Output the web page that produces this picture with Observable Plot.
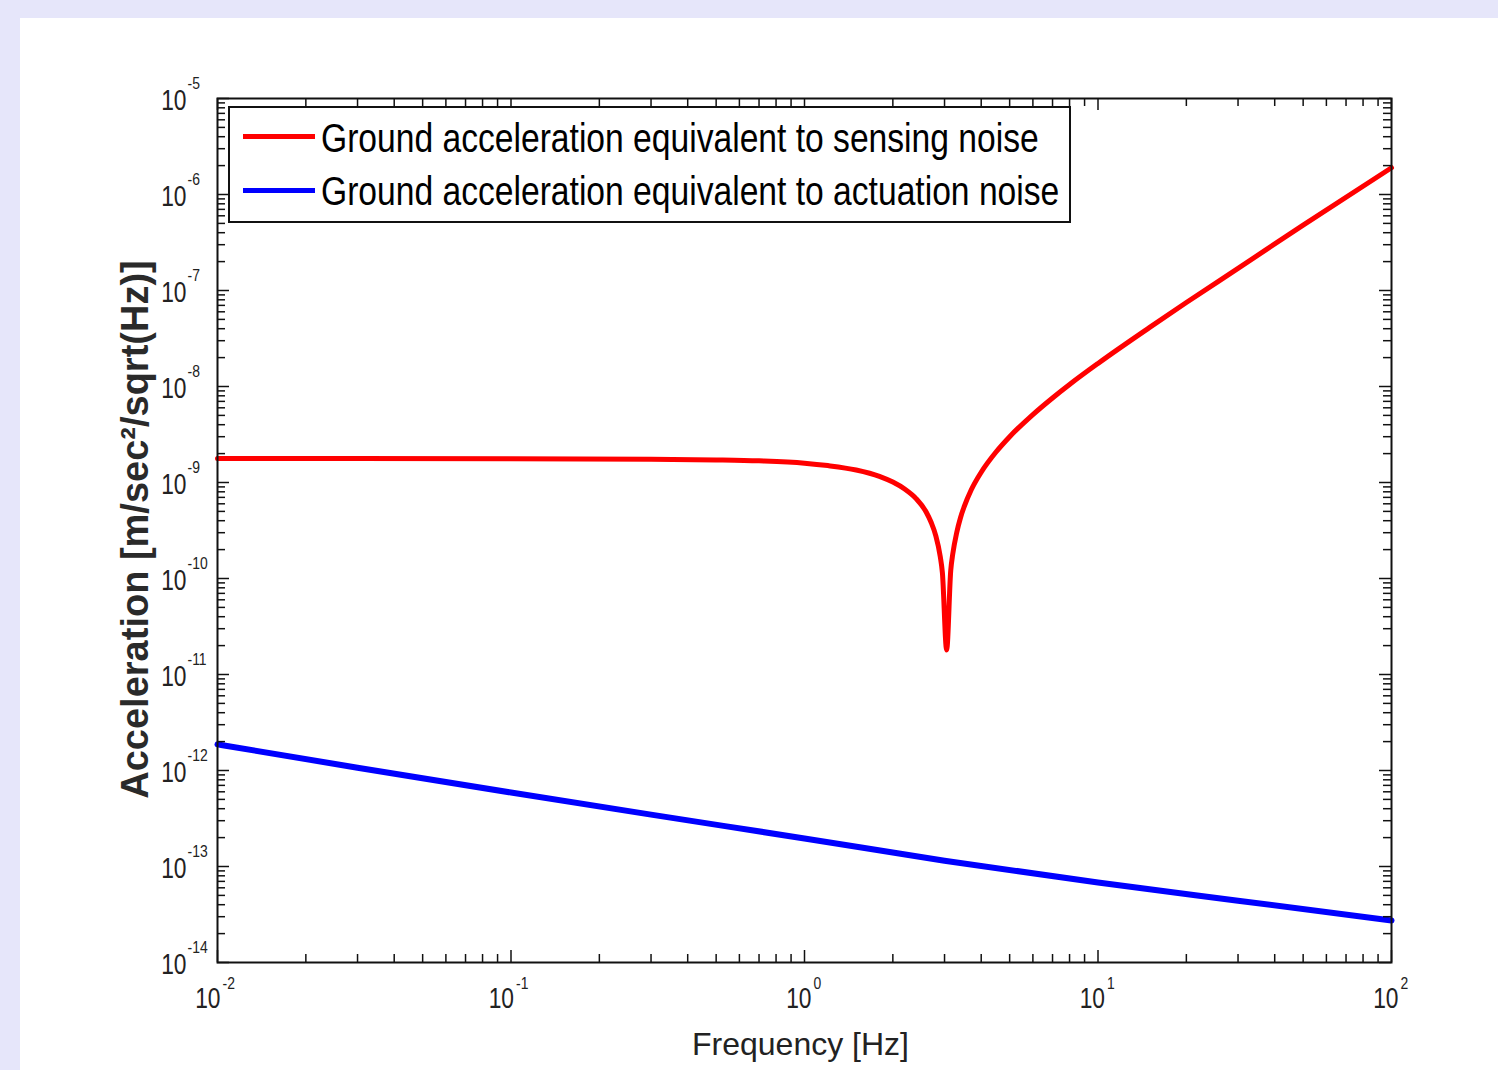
<!DOCTYPE html>
<html>
<head>
<meta charset="utf-8">
<script src="https://cdn.jsdelivr.net/npm/d3@7"></script>
<script src="https://cdn.jsdelivr.net/npm/@observablehq/plot@0.6"></script>
<style>
html, body { margin: 0; padding: 0; background: #e6e6fa; }
body { width: 1498px; height: 1070px; position: relative; overflow: hidden; }
#panel { position: absolute; left: 20px; top: 18px; right: 0; bottom: 0; background: #ffffff; }
#chart { position: absolute; left: 0; top: 0; }
#legend { position: absolute; left: 228px; top: 106px; width: 839px; height: 113px;
  border: 2px solid #111; background: #fff; font-family: "Liberation Sans", Arial, sans-serif;
  font-size: 41px; color: #000; }
.sw { position: absolute; left: 13px; width: 72px; height: 5px; }
.lt { position: absolute; left: 91px; line-height: 41px; white-space: nowrap;
  transform: scaleX(0.82); transform-origin: 0 50%; }
</style>
</head>
<body>
<div id="panel"></div>
<div id="chart"></div>
<div id="legend"></div>
<script>
// ---- data ----
const redFreq  = [0.01, 0.03, 0.1, 0.3, 0.5, 0.7, 1.0, 1.2, 1.5, 1.8, 2.0, 2.2, 2.4, 2.6, 2.7, 2.8, 2.9, 2.95, 3.05, 3.15, 3.2, 3.3, 3.4, 3.5, 3.7, 4.0, 4.5, 5.0, 6.0, 7.0, 8.0, 10, 15, 20, 30, 50, 100];
const redAccel = [1.78e-9, 1.78e-9, 1.77e-9, 1.75e-9, 1.72e-9, 1.68e-9, 1.59e-9, 1.50e-9, 1.35e-9, 1.16e-9, 1.01e-9, 8.5e-10, 6.8e-10, 4.9e-10, 3.85e-10, 2.8e-10, 1.7e-10, 1.15e-10, 1.8e-11, 1.22e-10, 1.8e-10, 3.0e-10, 4.3e-10, 5.6e-10, 8.4e-10, 1.28e-9, 2.09e-9, 3.0e-9, 5.1e-9, 7.6e-9, 1.05e-8, 1.74e-8, 4.13e-8, 7.5e-8, 1.70e-7, 4.8e-7, 1.9e-6];

const blueFreq  = [0.01, 0.03, 0.1, 0.3, 1, 3, 10, 30, 100];
const blueAccel = [1.87e-12, 1.07e-12, 5.9e-13, 3.47e-13, 1.96e-13, 1.15e-13, 6.8e-14, 4.4e-14, 2.74e-14];

const seriesNames = ["Ground acceleration equivalent to sensing noise", "Ground acceleration equivalent to actuation noise"];
const seriesColors = ["#ff0000", "#0000ff"];

const xTickValues = [1e-2, 1e-1, 1e0, 1e1, 1e2];
const xTickExp = ["-2", "-1", "0", "1", "2"];
const yTickValues = [1e-14, 1e-13, 1e-12, 1e-11, 1e-10, 1e-9, 1e-8, 1e-7, 1e-6, 1e-5];
const yTickExp = ["-14", "-13", "-12", "-11", "-10", "-9", "-8", "-7", "-6", "-5"];

const xLabel = "Frequency [Hz]";
const yLabel = "Acceleration [m/sec\u00B2/sqrt(Hz)]";

// ---- build ----
const red = redFreq.map((f, i) => ({f, a: redAccel[i]}));
const blue = blueFreq.map((f, i) => ({f, a: blueAccel[i]}));

const W = 1498, H = 1070;
const mL = 217, mR = W - 1391, mT = 98, mB = H - 962;
const pw = W - mL - mR, ph = H - mT - mB;

const minorOf = (lo, hi) => { const out = []; for (let d = lo; d < hi; d++) for (let k = 2; k <= 9; k++) out.push(k * Math.pow(10, d)); return out; };
const xMinor = minorOf(-2, 2);
const yMinor = minorOf(-14, -5);

const axisColor = "#111";
const sans = "'Liberation Sans', Arial, sans-serif";
const lblColor = "#222";

const xOff10 = xTickExp.map(e => e.startsWith("-") ? 3 : 7);

const chart = Plot.plot({
  width: W, height: H,
  marginLeft: mL, marginRight: mR, marginTop: mT, marginBottom: mB,
  style: {background: "transparent", overflow: "visible"},
  x: {type: "log", domain: [1e-2, 1e2], axis: null},
  y: {type: "log", domain: [1e-14, 1e-5], axis: null},
  marks: [
    Plot.line(blue, {x: "f", y: "a", stroke: seriesColors[1], strokeWidth: 6, curve: "monotone-x"}),
    Plot.line(red, {x: "f", y: "a", stroke: seriesColors[0], strokeWidth: 5, curve: "monotone-x"}),
    // inward ticks (MATLAB style), all four sides
    Plot.ruleX(xMinor, {x: d => d, insetTop: ph - 8, stroke: axisColor, strokeWidth: 1.5}),
    Plot.ruleX(xMinor, {x: d => d, insetBottom: ph - 8, stroke: axisColor, strokeWidth: 1.5}),
    Plot.ruleX(xTickValues, {x: d => d, insetTop: ph - 12, stroke: axisColor, strokeWidth: 1.5}),
    Plot.ruleX(xTickValues, {x: d => d, insetBottom: ph - 12, stroke: axisColor, strokeWidth: 1.5}),
    Plot.ruleY(yMinor, {y: d => d, insetRight: pw - 8, stroke: axisColor, strokeWidth: 1.5}),
    Plot.ruleY(yMinor, {y: d => d, insetLeft: pw - 8, stroke: axisColor, strokeWidth: 1.5}),
    Plot.ruleY(yTickValues, {y: d => d, insetRight: pw - 12, stroke: axisColor, strokeWidth: 1.5}),
    Plot.ruleY(yTickValues, {y: d => d, insetLeft: pw - 12, stroke: axisColor, strokeWidth: 1.5}),
    Plot.frame({stroke: axisColor, strokeWidth: 2}),
    // x tick labels: "10" + superscript exponent
    Plot.text(xTickValues, {x: d => d, frameAnchor: "bottom", text: () => "10", textAnchor: "end",
      lineAnchor: "bottom", dy: 45, fontSize: 30, fontFamily: sans, fill: lblColor}),
    Plot.text(xTickValues, {x: d => d, frameAnchor: "bottom", text: (d, i) => xTickExp[i], textAnchor: "start",
      lineAnchor: "bottom", dy: 26, fontSize: 17, fontFamily: sans, fill: lblColor}),
    // y tick labels
    Plot.text(yTickValues, {y: d => d, frameAnchor: "left", text: () => "10", textAnchor: "end",
      lineAnchor: "bottom", dx: -31, dy: 11, fontSize: 30, fontFamily: sans, fill: lblColor}),
    Plot.text(yTickValues, {y: d => d, frameAnchor: "left", text: (d, i) => yTickExp[i], textAnchor: "start",
      lineAnchor: "bottom", dx: -30, dy: -10, fontSize: 17, fontFamily: sans, fill: lblColor}),
    // axis labels
    Plot.text([xLabel], {frameAnchor: "bottom", text: d => d, textAnchor: "middle", lineAnchor: "bottom",
      dx: -4, dy: 92, fontSize: 32, fontFamily: sans, fill: lblColor}),
    Plot.text([yLabel], {frameAnchor: "left", text: d => d, textAnchor: "middle", lineAnchor: "bottom",
      rotate: -90, dx: -70, dy: -1, fontSize: 38, fontWeight: "bold", fontFamily: sans, fill: "#2a2a2a"})
  ]
});

// condense the tick labels (MATLAB-like narrow glyphs) and center x labels on their ticks
const textGroups = chart.querySelectorAll("g[aria-label='text']");
const adjust = (g, fn) => g && g.querySelectorAll("text").forEach((t, i) => {
  t.setAttribute("transform", (t.getAttribute("transform") || "") + fn(i));
});
adjust(textGroups[0], i => ` translate(${xOff10[i]},0) scale(0.76,1)`);
adjust(textGroups[1], i => ` translate(${xOff10[i] + 2},0) scale(0.82,1)`);
adjust(textGroups[2], i => ` scale(0.76,1)`);
adjust(textGroups[3], i => ` scale(0.82,1)`);

document.getElementById("chart").appendChild(chart);

// legend
const leg = document.getElementById("legend");
const swTop = [26, 80], txtTop = [10, 63];
seriesNames.forEach((name, i) => {
  const sw = document.createElement("div");
  sw.className = "sw"; sw.style.top = swTop[i] + "px"; sw.style.background = seriesColors[i];
  leg.appendChild(sw);
  const t = document.createElement("div");
  t.className = "lt"; t.style.top = txtTop[i] + "px"; t.textContent = name;
  leg.appendChild(t);
});
</script>
</body>
</html>
